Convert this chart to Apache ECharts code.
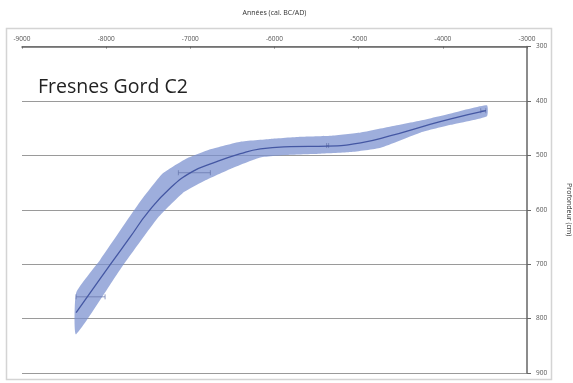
<!DOCTYPE html>
<html>
<head>
<meta charset="utf-8">
<script src="https://cdn.jsdelivr.net/npm/echarts@6/dist/echarts.min.js"></script>
<style>
html, body { margin: 0; padding: 0; background: #fff; }
#main { width: 573px; height: 383px; }
</style>
</head>
<body>
<div id="main"></div>
<script>
// age-depth model, ages in cal. BC/AD, depths in cm
var centerLine = [
	[-8357, 789], [-8155, 745], [-7952, 701], [-7714, 650], [-7500, 604],
	[-7238, 560], [-6976, 530], [-6726, 514], [-6405, 497], [-6167, 488],
	[-5810, 484], [-5369, 483], [-4976, 477], [-4619, 464], [-4262, 448],
	[-3905, 433], [-3488, 418]
];
// envelope, shallow side
var bandUpper = [
	[-8357, 753], [-8071, 692], [-7619, 590], [-7333, 534], [-7060, 507],
	[-6762, 489], [-6405, 475], [-6048, 470], [-5690, 466], [-5333, 464],
	[-4976, 458], [-4619, 447], [-4262, 436], [-3905, 423], [-3476, 408]
];
// envelope, deep side
var bandLower = [
	[-8357, 829], [-7833, 710], [-7381, 614], [-7095, 570], [-6821, 546],
	[-6524, 525], [-6167, 504], [-5810, 499], [-5452, 497], [-5095, 494],
	[-4738, 486], [-4262, 458], [-3905, 444], [-3476, 428]
];
// dated levels : age, depth, error (years)
var dateAges = [-8185, -6952, -5369, -3520];
var dateDepths = [760, 532, 482, 418];
var dateErr = [172, 190, 12, 30];

var xTicks = [-9000, -3000, 1000]; // min, max, interval
var yTicks = [300, 900, 100];

var myChart = echarts.init(document.getElementById('main'));

var dateData = [];
for (var i = 0; i < dateAges.length; i++) {
	dateData.push([dateAges[i], dateDepths[i], dateErr[i]]);
}

var option = {
	animation: false,
	backgroundColor: '#fff',
	graphic: [{
		type: 'rect',
		shape: { x: 6.5, y: 28.5, width: 545, height: 351 },
		style: { fill: 'none', stroke: '#d4d4d4', lineWidth: 1.5 },
		z: -1
	}, {
		type: 'text',
		left: 38,
		top: 77,
		style: {
			text: 'Fresnes Gord C2',
			fill: '#222',
			font: '19.5px "Open Sans", "DejaVu Sans", sans-serif'
		}
	}],
	grid: {
		left: 22,
		right: 46,
		top: 46.5,
		bottom: 10,
		outerBoundsMode: 'none'
	},
	xAxis: {
		type: 'value',
		position: 'top',
		min: xTicks[0],
		max: xTicks[1],
		interval: xTicks[2],
		name: 'Années (cal. BC/AD)',
		nameLocation: 'middle',
		nameGap: 30,
		nameTextStyle: { fontSize: 7, color: '#333', fontFamily: 'Open Sans' },
		axisLine: { onZero: false, lineStyle: { color: '#666', width: 1.5 } },
		axisTick: { inside: true, length: 2, lineStyle: { color: '#666' } },
		axisLabel: {
			fontSize: 6.5, color: '#555', margin: 4, fontFamily: 'Open Sans',
			formatter: function (v) { return String(v); }
		},
		splitLine: { show: false }
	},
	yAxis: {
		type: 'value',
		position: 'right',
		inverse: true,
		min: yTicks[0],
		max: yTicks[1],
		interval: yTicks[2],
		name: 'Profondeur (cm)',
		nameLocation: 'middle',
		nameRotate: -90,
		nameGap: 38,
		nameTextStyle: { fontSize: 7, color: '#333', fontFamily: 'Open Sans' },
		axisLine: { show: true, lineStyle: { color: '#666', width: 1.5 } },
		axisTick: { show: true, length: 4, lineStyle: { color: '#666' } },
		axisLabel: { fontSize: 6.5, color: '#555', margin: 9, fontFamily: 'Open Sans' },
		splitLine: { show: true, lineStyle: { color: '#9a9a9a', width: 1.2 } }
	},
	series: [{
		type: 'custom',
		name: 'envelope',
		data: [[0]],
		silent: true,
		renderItem: function (params, api) {
			var pts = [];
			for (var a = 0; a < bandUpper.length; a++) {
				pts.push(api.coord(bandUpper[a]));
			}
			for (var b = bandLower.length - 1; b >= 0; b--) {
				pts.push(api.coord(bandLower[b]));
			}
			return {
				type: 'polygon',
				shape: { points: pts, smooth: 0.15 },
				style: { fill: 'rgba(120,143,207,0.72)', stroke: 'none' }
			};
		},
		z: 2
	}, {
		type: 'custom',
		name: 'dates',
		data: dateData,
		silent: true,
		renderItem: function (params, api) {
			var l = api.coord([api.value(0) - api.value(2), api.value(1)]);
			var r = api.coord([api.value(0) + api.value(2), api.value(1)]);
			var st = { stroke: 'rgba(100,115,170,0.7)', lineWidth: 1 };
			return {
				type: 'group',
				children: [
					{ type: 'line', shape: { x1: l[0], y1: l[1], x2: r[0], y2: r[1] }, style: st },
					{ type: 'line', shape: { x1: l[0], y1: l[1] - 2.5, x2: l[0], y2: l[1] + 2.5 }, style: st },
					{ type: 'line', shape: { x1: r[0], y1: r[1] - 2.5, x2: r[0], y2: r[1] + 2.5 }, style: st }
				]
			};
		},
		z: 3
	}, {
		type: 'line',
		name: 'model',
		data: centerLine,
		smooth: true,
		showSymbol: false,
		lineStyle: { color: '#4457a3', width: 1.3 },
		z: 4
	}]
};

myChart.setOption(option);
</script>
</body>
</html>
